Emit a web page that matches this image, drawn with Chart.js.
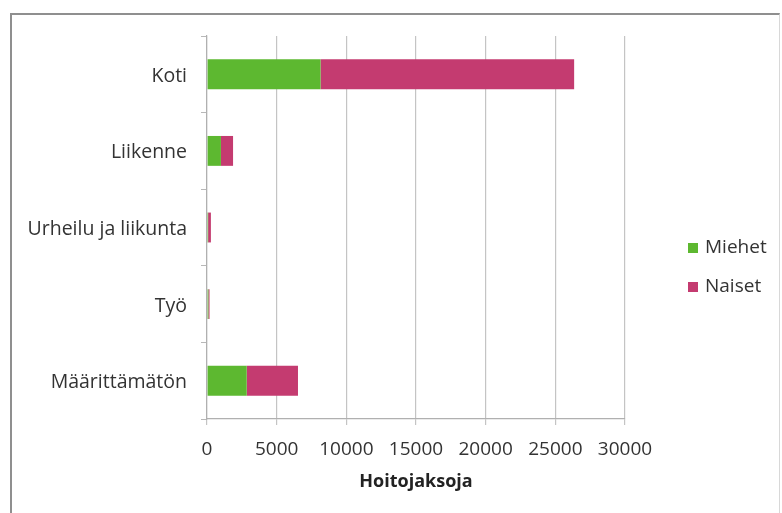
<!DOCTYPE html>
<html>
<head>
<meta charset="utf-8">
<script src="https://cdn.jsdelivr.net/npm/chart.js@4"></script>
<style>
  html, body { margin: 0; padding: 0; background: #fff; }
  #wrap { position: relative; width: 782px; height: 513px; }
  #frame { position: absolute; left: 10px; top: 13px; width: 770px; height: 510px;
           border-left: 2px solid #8f8f8f; border-top: 2px solid #8f8f8f; border-right: 1px solid #d8d8d8;
           pointer-events: none; box-sizing: border-box; }
</style>
</head>
<body>
<div id="wrap">
  <canvas id="c" width="782" height="513"></canvas>
  <div id="frame"></div>
</div>
<script>
// Hoitojaksot tapaturmapaikan mukaan
const categories = ['Koti', 'Liikenne', 'Urheilu ja liikunta', 'Työ', 'Määrittämätön'];
const miehet = [8150, 1000, 80, 100, 2850];
const naiset = [18200, 870, 200, 80, 3680];
const seriesNames = ['Miehet', 'Naiset'];
const xTicks = [0, 5000, 10000, 15000, 20000, 25000, 30000];

const FONT = '"Open Sans", sans-serif';
const TEXT = '#333333';

// legend on the right, drawn from the dataset colours
const sideLegend = {
  id: 'sideLegend',
  afterDraw(chart) {
    const ctx = chart.ctx;
    ctx.save();
    ctx.font = '19px ' + FONT;
    ctx.textBaseline = 'middle';
    ctx.textAlign = 'left';
    chart.data.datasets.forEach((ds, i) => {
      const y = 248 + i * 39;
      ctx.fillStyle = ds.backgroundColor;
      ctx.fillRect(688, y - 5, 10, 10);
      ctx.fillStyle = TEXT;
      ctx.fillText(ds.label, 705, y);
    });
    ctx.restore();
  }
};

new Chart(document.getElementById('c'), {
  type: 'bar',
  data: {
    labels: categories,
    datasets: [
      { label: seriesNames[0], data: miehet, backgroundColor: '#5db830' },
      { label: seriesNames[1], data: naiset, backgroundColor: '#c43b70' }
    ]
  },
  options: {
    indexAxis: 'y',
    responsive: false,
    animation: false,
    layout: { padding: { top: 36, right: 157, left: 0, bottom: 0 } },
    datasets: { bar: { categoryPercentage: 1, barPercentage: 0.39 } },
    plugins: { legend: { display: false }, tooltip: { enabled: false } },
    scales: {
      x: {
        stacked: true,
        min: 0, max: 30000,
        afterBuildTicks(scale) { scale.ticks = xTicks.map(v => ({ value: v })); },
        afterFit(scale) { scale.height = 94; },
        grid: { color: '#c4c4c4', lineWidth: 1.2, tickLength: 6, drawTicks: true },
        border: { color: '#b0b0b0', width: 1.2 },
        ticks: { color: TEXT, font: { family: FONT, size: 19 }, padding: 13, maxRotation: 0,
                 callback: v => String(v) },
        title: { display: true, text: 'Hoitojaksoja', color: '#222', font: { family: FONT, size: 18, weight: 'bold' }, padding: { top: 4, bottom: 20 } }
      },
      y: {
        stacked: true,
        afterFit(scale) { scale.width = 207; },
        grid: { offset: true, drawOnChartArea: false, drawTicks: true, tickLength: 6, color: '#b8b8b8' },
        border: { color: '#b0b0b0', width: 1.2 },
        ticks: { color: TEXT, font: { family: FONT, size: 19.5 }, padding: 14, labelOffset: 2 }
      }
    }
  },
  plugins: [sideLegend]
});
</script>
</body>
</html>
